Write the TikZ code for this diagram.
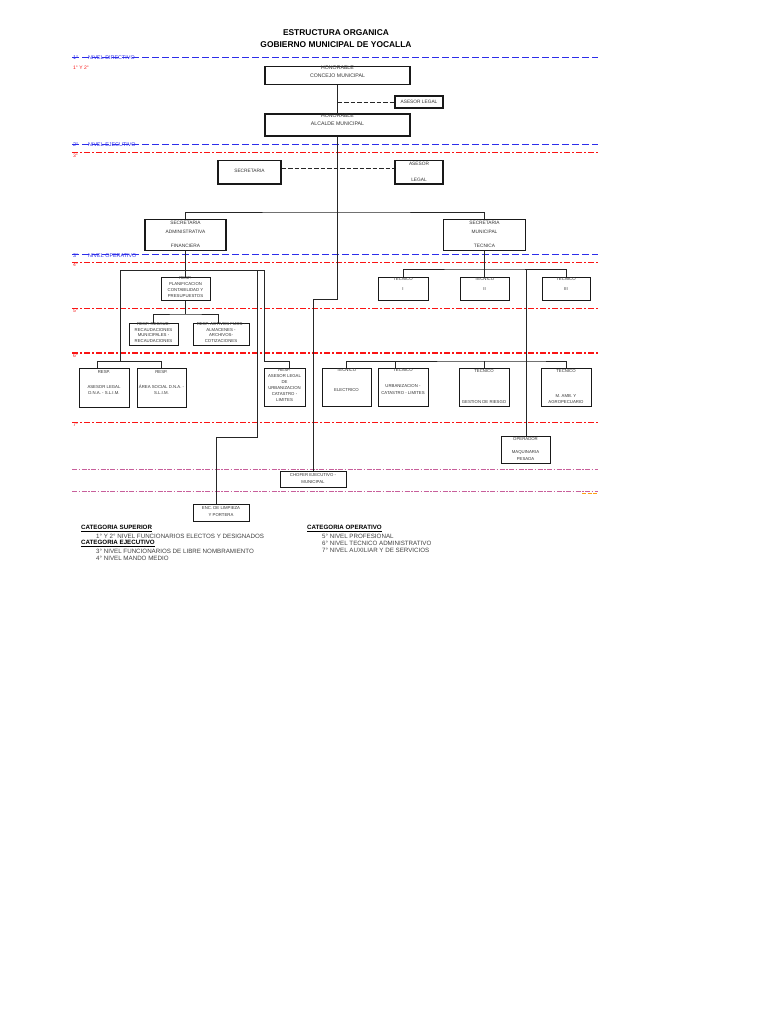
\documentclass[tikz,border=0pt]{standalone}
\usepackage{fontspec}
\setmainfont{Liberation Sans}
\definecolor{lvblue}{RGB}{45,45,235}
\definecolor{lvred}{RGB}{250,20,20}
\definecolor{lvpurp}{RGB}{200,95,155}
\definecolor{lvorange}{RGB}{255,160,20}
\begin{document}
\begin{tikzpicture}[x=1pt,y=-1pt,
  box/.style={draw=black!90,fill=white,line width=1pt,rectangle,inner sep=0pt},
  midbox/.style={box,line width=1.3pt},
  bigbox/.style={box,line width=1.9pt},
  lbl/.style={font=\fontsize{4.3}{5}\selectfont,text=black!80,inner sep=0pt},
  mlbl/.style={lbl,font=\fontsize{4.8}{5.5}\selectfont},
  blbl/.style={lbl,font=\fontsize{5.2}{6}\selectfont},
  conn/.style={draw=black!85,line width=0.8pt},
  dconn/.style={conn,dash pattern=on 4.5pt off 2pt},
  bluelv/.style={draw=lvblue,line width=0.9pt,dash pattern=on 6.5pt off 3.5pt},
  redthick/.style={draw=lvred,line width=1.6pt,dash pattern=on 6pt off 2pt on 2pt off 2pt},
  redthin/.style={draw=lvred,line width=0.8pt,dash pattern=on 6pt off 2pt on 2pt off 2pt},
  purplv/.style={draw=lvpurp,line width=1.5pt,dash pattern=on 5pt off 1.5pt on 1.5pt off 1.5pt},
  bluetxt/.style={anchor=west,inner sep=0pt,text=lvblue,font=\fontsize{5.4}{6}\selectfont},
  redtxt/.style={anchor=west,inner sep=0pt,text=lvred,font=\fontsize{5}{6}\selectfont},
  legtxt/.style={anchor=west,inner sep=0pt,text=black!75,font=\fontsize{6.2}{7}\selectfont},
  leghead/.style={anchor=west,inner sep=0pt,text=black,font=\fontsize{6.2}{7}\selectfont\bfseries},
  titletxt/.style={inner sep=0pt,font=\fontsize{8.4}{10}\selectfont\bfseries}
]
\fill[white] (0,0) rectangle (768,1024);
\useasboundingbox (0,0) rectangle (768,1024);

% title
\node[titletxt] (title1) at (336,32.5) {ESTRUCTURA ORGANICA};
\node[titletxt] (title2) at (336,44.5) {GOBIERNO MUNICIPAL DE YOCALLA};

% level lines
\draw[bluelv] (72,57.5) -- (598,57.5);
\draw[bluelv] (72,144.5) -- (598,144.5);
\draw[redthick] (72,152.5) -- (598,152.5);
\draw[bluelv] (72,254.5) -- (598,254.5);
\draw[redthin] (72,262) -- (598,262);
\draw[redthick] (72,308.5) -- (598,308.5);
\draw[redthick] (72,353) -- (598,353);
\draw[redthin] (72,422) -- (598,422);
\draw[purplv] (72,469.5) -- (598,469.5);
\draw[purplv] (72,491.5) -- (598,491.5);
\draw[draw=lvorange,line width=1pt,dash pattern=on 4pt off 1.5pt] (582,493.8) -- (598,493.8);

\node[bluetxt] (lv1n) at (73,57.5) {1°};
\node[bluetxt] (lv1t) at (88,57.5) {NIVEL DIRECTIVO};
\node[redtxt] (lv1r) at (73,67.5) {1° Y 2°};
\node[bluetxt] (lv2n) at (73,145) {2°};
\node[bluetxt] (lv2t) at (88,145) {NIVEL EJECUTIVO};
\node[redtxt] (lv3r) at (73,155.5) {3°};
\node[bluetxt] (lv3n) at (73,255.5) {3°};
\node[bluetxt] (lv3t) at (88,255.5) {NIVEL OPERATIVO};
\node[redtxt] (lv4r) at (73,264.5) {4°};
\node[redtxt] (lv5r) at (73,311) {5°};
\node[redtxt] (lv6r) at (73,356) {6°};
\node[redtxt] (lv7r) at (73,424.5) {7°};

% coordinates
\coordinate (d1) at (337.5,102);
\coordinate (k1) at (337.5,299);
\coordinate (k2) at (313,299);
\coordinate (h1) at (337.5,212);
\coordinate (p1) at (185.5,314);
\coordinate (lA) at (120,361);
\coordinate (lB) at (120,270);
\coordinate (lC) at (264,270);
\coordinate (lD) at (264,361);
\coordinate (lE) at (289,361);
\coordinate (aL) at (97,361);
\coordinate (aR) at (161.5,361);
\coordinate (e1) at (257,270);
\coordinate (e2) at (257,437);
\coordinate (e3) at (216,437);
\coordinate (r1) at (484.5,269);
\coordinate (r2) at (526,269);
\coordinate (r3) at (526,361);

% boxes
\node[bigbox,minimum width=145pt,minimum height=18pt,
  label={[blbl,yshift=8pt]center:HONORABLE},
  label={[blbl]center:CONCEJO MUNICIPAL}] (concejo) at (337.5,75.5) {};
\node[box,line width=1.2pt,minimum width=48pt,minimum height=12pt,
  label={[mlbl]center:ASESOR LEGAL}] (asesor1) at (419,102) {};
\node[bigbox,minimum width=145pt,minimum height=22pt,
  label={[blbl,yshift=8.8pt]center:HONORABLE},
  label={[blbl,yshift=1pt]center:ALCALDE MUNICIPAL}] (alcalde) at (337.5,125) {};
\node[midbox,minimum width=63pt,minimum height=23.5pt,
  label={[mlbl,yshift=1pt]center:SECRETARIA}] (secretaria) at (249.5,172.3) {};
\node[midbox,minimum width=48pt,minimum height=23.5pt,
  label={[mlbl,yshift=8.6pt]center:ASESOR},
  label={[mlbl,yshift=-7.7pt]center:LEGAL}] (asesor2) at (419,172.3) {};
\node[midbox,minimum width=81pt,minimum height=31pt,
  label={[mlbl,yshift=12.3pt]center:SECRETARIA},
  label={[mlbl,yshift=3.4pt]center:ADMINISTRATIVA},
  label={[mlbl,yshift=-10.3pt]center:FINANCIERA}] (saf) at (185.5,235.3) {};
\node[midbox,minimum width=82pt,minimum height=31pt,
  label={[mlbl,yshift=12.3pt]center:SECRETARIA},
  label={[mlbl,yshift=3.4pt]center:MUNICIPAL},
  label={[mlbl,yshift=-10.3pt]center:TECNICA}] (smt) at (484.5,235.3) {};
\node[box,minimum width=49pt,minimum height=23pt,
  label={[lbl,yshift=10.5pt]center:RESP.},
  label={[lbl,yshift=4.5pt]center:PLANIFICACION},
  label={[lbl,yshift=-1.5pt]center:CONTABILIDAD Y},
  label={[lbl,yshift=-7.5pt]center:PRESUPUESTOS}] (planif) at (185.5,288.5) {};
\node[box,minimum width=50pt,minimum height=23pt,
  label={[lbl,yshift=9.5pt]center:TECNICO},
  label={[lbl,yshift=-0.5pt]center:I}] (tec1) at (403,288.5) {};
\node[box,minimum width=49pt,minimum height=23pt,
  label={[lbl,yshift=9.5pt]center:TECNICO},
  label={[lbl,yshift=-0.5pt]center:II}] (tec2) at (484.5,288.5) {};
\node[box,minimum width=48pt,minimum height=23pt,
  label={[lbl,yshift=9.5pt]center:TECNICO},
  label={[lbl,yshift=-0.5pt]center:III}] (tec3) at (566,288.5) {};
\node[box,minimum width=49pt,minimum height=22pt,
  label={[lbl,yshift=9.5pt]center:RESP. RECAUD.},
  label={[lbl,yshift=4pt]center:RECAUDACIONES},
  label={[lbl,yshift=-1.5pt]center:MUNICIPALES -},
  label={[lbl,yshift=-7pt]center:RECAUDACIONES}] (recaud) at (153.5,334) {};
\node[box,minimum width=56pt,minimum height=22pt,
  label={[lbl,yshift=9.5pt]center:RESP. ACTIVOS FIJOS -},
  label={[lbl,yshift=4pt]center:ALMACENES -},
  label={[lbl,yshift=-1.5pt]center:ARCHIVOS-},
  label={[lbl,yshift=-7pt]center:COTIZACIONES}] (activos) at (221,334) {};
\node[box,minimum width=50pt,minimum height=39pt,
  label={[lbl,yshift=15.8pt]center:RESP.},
  label={[lbl,yshift=0.8pt]center:ASESOR LEGAL},
  label={[lbl,yshift=-5.8pt]center:D.N.A. - S.L.I.M.}] (resA) at (104,387.5) {};
\node[box,minimum width=49pt,minimum height=39pt,
  label={[lbl,yshift=15.8pt]center:RESP.},
  label={[lbl,yshift=0.8pt]center:ÁREA SOCIAL D.N.A. -},
  label={[lbl,yshift=-5.8pt]center:S.L.I.M.}] (resB) at (161.5,387.5) {};
\node[box,minimum width=41pt,minimum height=38pt,
  label={[lbl,yshift=17pt]center:RESP.},
  label={[lbl,yshift=10.5pt]center:ASESOR LEGAL},
  label={[lbl,yshift=4.5pt]center:DE},
  label={[lbl,yshift=-1.5pt]center:URBANIZACION},
  label={[lbl,yshift=-7.5pt]center:CATASTRO -},
  label={[lbl,yshift=-13.5pt]center:LIMITES}] (resC) at (284.5,387) {};
\node[box,minimum width=49pt,minimum height=38pt,
  label={[lbl,yshift=17pt]center:TECNICO},
  label={[lbl,yshift=-3pt]center:ELECTRICO}] (elec) at (346.5,387) {};
\node[box,minimum width=50pt,minimum height=38pt,
  label={[lbl,yshift=17pt]center:TECNICO},
  label={[lbl,yshift=1pt]center:URBANIZACION -},
  label={[lbl,yshift=-5.7pt]center:CATASTRO - LIMITES}] (urb) at (403,387) {};
\node[box,minimum width=50pt,minimum height=38pt,
  label={[lbl,yshift=16pt]center:TECNICO},
  label={[lbl,yshift=-15.3pt]center:GESTION DE RIESGO}] (gest) at (484,387) {};
\node[box,minimum width=50pt,minimum height=38pt,
  label={[lbl,yshift=16pt]center:TECNICO},
  label={[lbl,yshift=-8.7pt]center:M. AMB. Y},
  label={[lbl,yshift=-15.3pt]center:AGROPECUARIO}] (amb) at (566,387) {};
\node[box,minimum width=49pt,minimum height=27pt,
  label={[lbl,yshift=10.7pt]center:OPERADOR},
  label={[lbl,yshift=-2.7pt]center:MAQUINARIA},
  label={[lbl,yshift=-8.7pt]center:PESADA}] (operador) at (525.5,450) {};
\node[box,minimum width=66pt,minimum height=16pt,
  label={[lbl,yshift=3.5pt]center:CHOFER EJECUTIVO -},
  label={[lbl,yshift=-3.5pt]center:MUNICIPAL}] (chofer) at (313,479) {};
\node[box,minimum width=56pt,minimum height=17pt,
  label={[lbl,yshift=4pt]center:ENC. DE LIMPIEZA},
  label={[lbl,yshift=-3pt]center:Y PORTERA}] (enc) at (221,512.5) {};

% connectors
\draw[conn] (concejo) -- (alcalde);
\draw[dconn] (d1) -- (asesor1.west);
\draw[conn] (alcalde.south) -- (k1) -- (k2) -- (chofer.north);
\draw[dconn] ([yshift=3.5pt]secretaria.east) -- ([yshift=3.5pt]asesor2.west);
\draw[conn] (saf.north) |- (h1) -| (smt.north);
\draw[conn] (saf.south) -- (planif.north);
\draw[conn] (planif.south) -- (p1);
\draw[conn] (recaud.north) |- (p1) -| ([xshift=-3pt]activos.north);
\draw[conn] (lA) -- (lB) -- (lC) -- (lD) -- (lE) -- ([xshift=4.5pt]resC.north);
\draw[conn] ([xshift=-7pt]resA.north) -- (aL) -- (aR) -- (resB.north);
\draw[conn] (e1) -- (e2) -- (e3) -- ([xshift=-5pt]enc.north);
\draw[conn] (smt.south) -- (r1);
\draw[conn] (tec1.north) |- (r1) -| (tec3.north);
\draw[conn] (r1) -- (tec2.north);
\draw[conn] (r2) -- ([xshift=0.5pt]operador.north);
\draw[conn] (elec.north) |- (r3) -| (amb.north);
\draw[conn] ([xshift=-8pt]urb.north) -- ++(0,-7);
\draw[conn] (gest.north) -- ++(0,-7);

% legend
\node[leghead] (lg1) at (81,528.3) {\underline{CATEGORIA SUPERIOR}};
\node[legtxt] (lg2) at (96,536) {1° Y 2° NIVEL FUNCIONARIOS ELECTOS Y DESIGNADOS};
\node[leghead] (lg3) at (81,543.5) {\underline{CATEGORIA EJECUTIVO}};
\node[legtxt] (lg4) at (96,551) {3° NIVEL FUNCIONARIOS DE LIBRE NOMBRAMIENTO};
\node[legtxt] (lg5) at (96,558.5) {4° NIVEL MANDO MEDIO};
\node[leghead] (lg6) at (307,528.3) {\underline{CATEGORIA OPERATIVO}};
\node[legtxt] (lg7) at (322,536) {5° NIVEL PROFESIONAL};
\node[legtxt] (lg8) at (322,543.2) {6° NIVEL TECNICO ADMINISTRATIVO};
\node[legtxt] (lg9) at (322,550.4) {7° NIVEL AUXILIAR Y DE SERVICIOS};
\end{tikzpicture}
\end{document}
